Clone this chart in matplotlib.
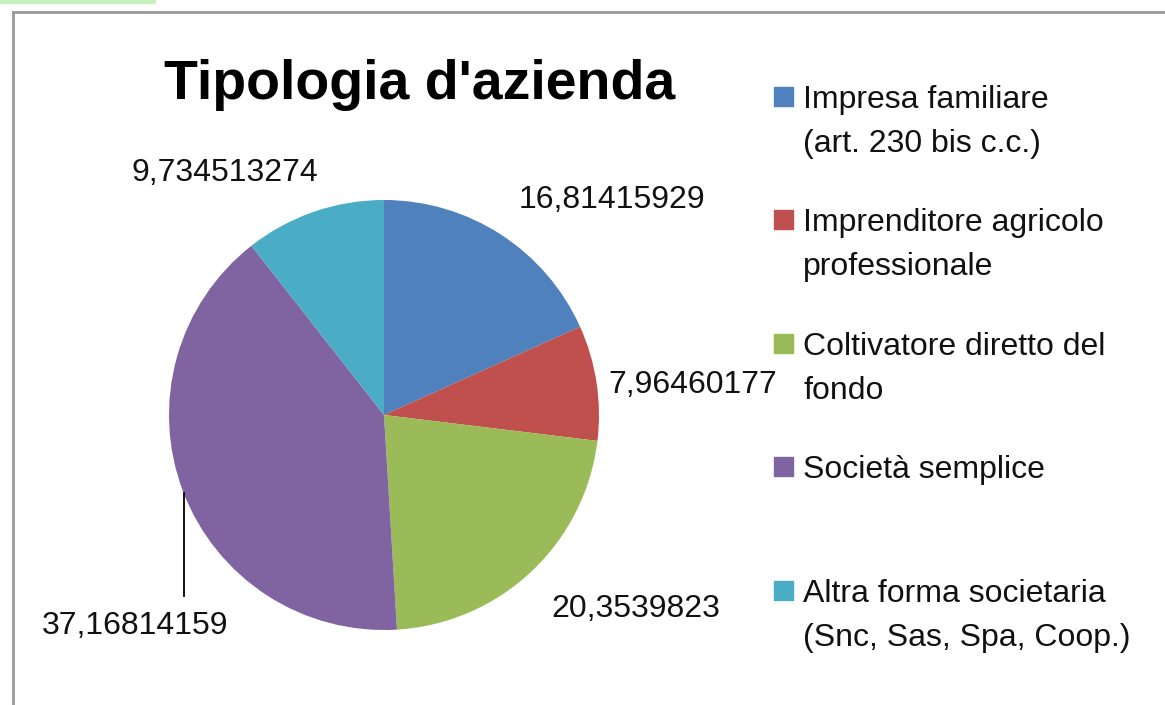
import matplotlib
matplotlib.use("Agg")
from matplotlib import pyplot as plt
from matplotlib.patches import Rectangle

# data
categorie = ["Impresa familiare\n(art. 230 bis c.c.)",
             "Imprenditore agricolo\nprofessionale",
             "Coltivatore diretto del\nfondo",
             "Società semplice",
             "Altra forma societaria\n(Snc, Sas, Spa, Coop.)"]
valori = [16.81415929, 7.96460177, 20.3539823, 37.16814159, 9.734513274]
etichette = ["16,81415929", "7,96460177", "20,3539823", "37,16814159", "9,734513274"]
colori = ["#4F81BD", "#C0504D", "#9BBB59", "#8064A2", "#4BACC6"]

# label positions (pixel coords of the screenshot)
pos_etichette = [(612, 200), (693, 385), (636, 609), (135, 626), (225, 173)]

plt.rcParams['font.family'] = ['Liberation Sans', 'DejaVu Sans']

fig = plt.figure(figsize=(11.65, 7.05), dpi=100)
ax = fig.add_axes([0, 0, 1, 1])

# pie: ylim is inverted, so counterclock=True draws clockwise on screen
ax.pie(valori, colors=colori, startangle=-90, counterclock=True,
       center=(384, 415), radius=215, frame=True)
ax.set_xlim(0, 1165)
ax.set_ylim(705, 0)
ax.set_aspect('equal')
ax.axis('off')

for (x, y), txt in zip(pos_etichette, etichette):
    ax.text(x, y, txt, fontsize=23, ha='center', va='center', color='#111111')

# leader line for the purple slice
ax.plot([184, 184], [493, 596], color='black', lw=1.3)

ax.text(420, 99, "Tipologia d'azienda", fontsize=40, fontweight='bold',
        ha='center', va='baseline', color='black')

# legend drawn by hand, Excel style
y_leg = [97, 220, 344, 467, 591]
for y, lab, c in zip(y_leg, categorie, colori):
    ax.add_patch(Rectangle((774, y - 10), 19, 19, color=c))
    ax.text(803, y - 12, lab, fontsize=23, ha='left', va='top',
            linespacing=1.6, color='#111111')

# chart frame and spreadsheet remnants
ax.plot([13, 13], [12, 705], color='#999999', lw=2)
ax.plot([13, 1165], [12, 12], color='#999999', lw=2)
ax.add_patch(Rectangle((0, 0), 155, 3, color='#c8f0c0'))

fig.savefig("out.png", dpi=100, facecolor='white')
